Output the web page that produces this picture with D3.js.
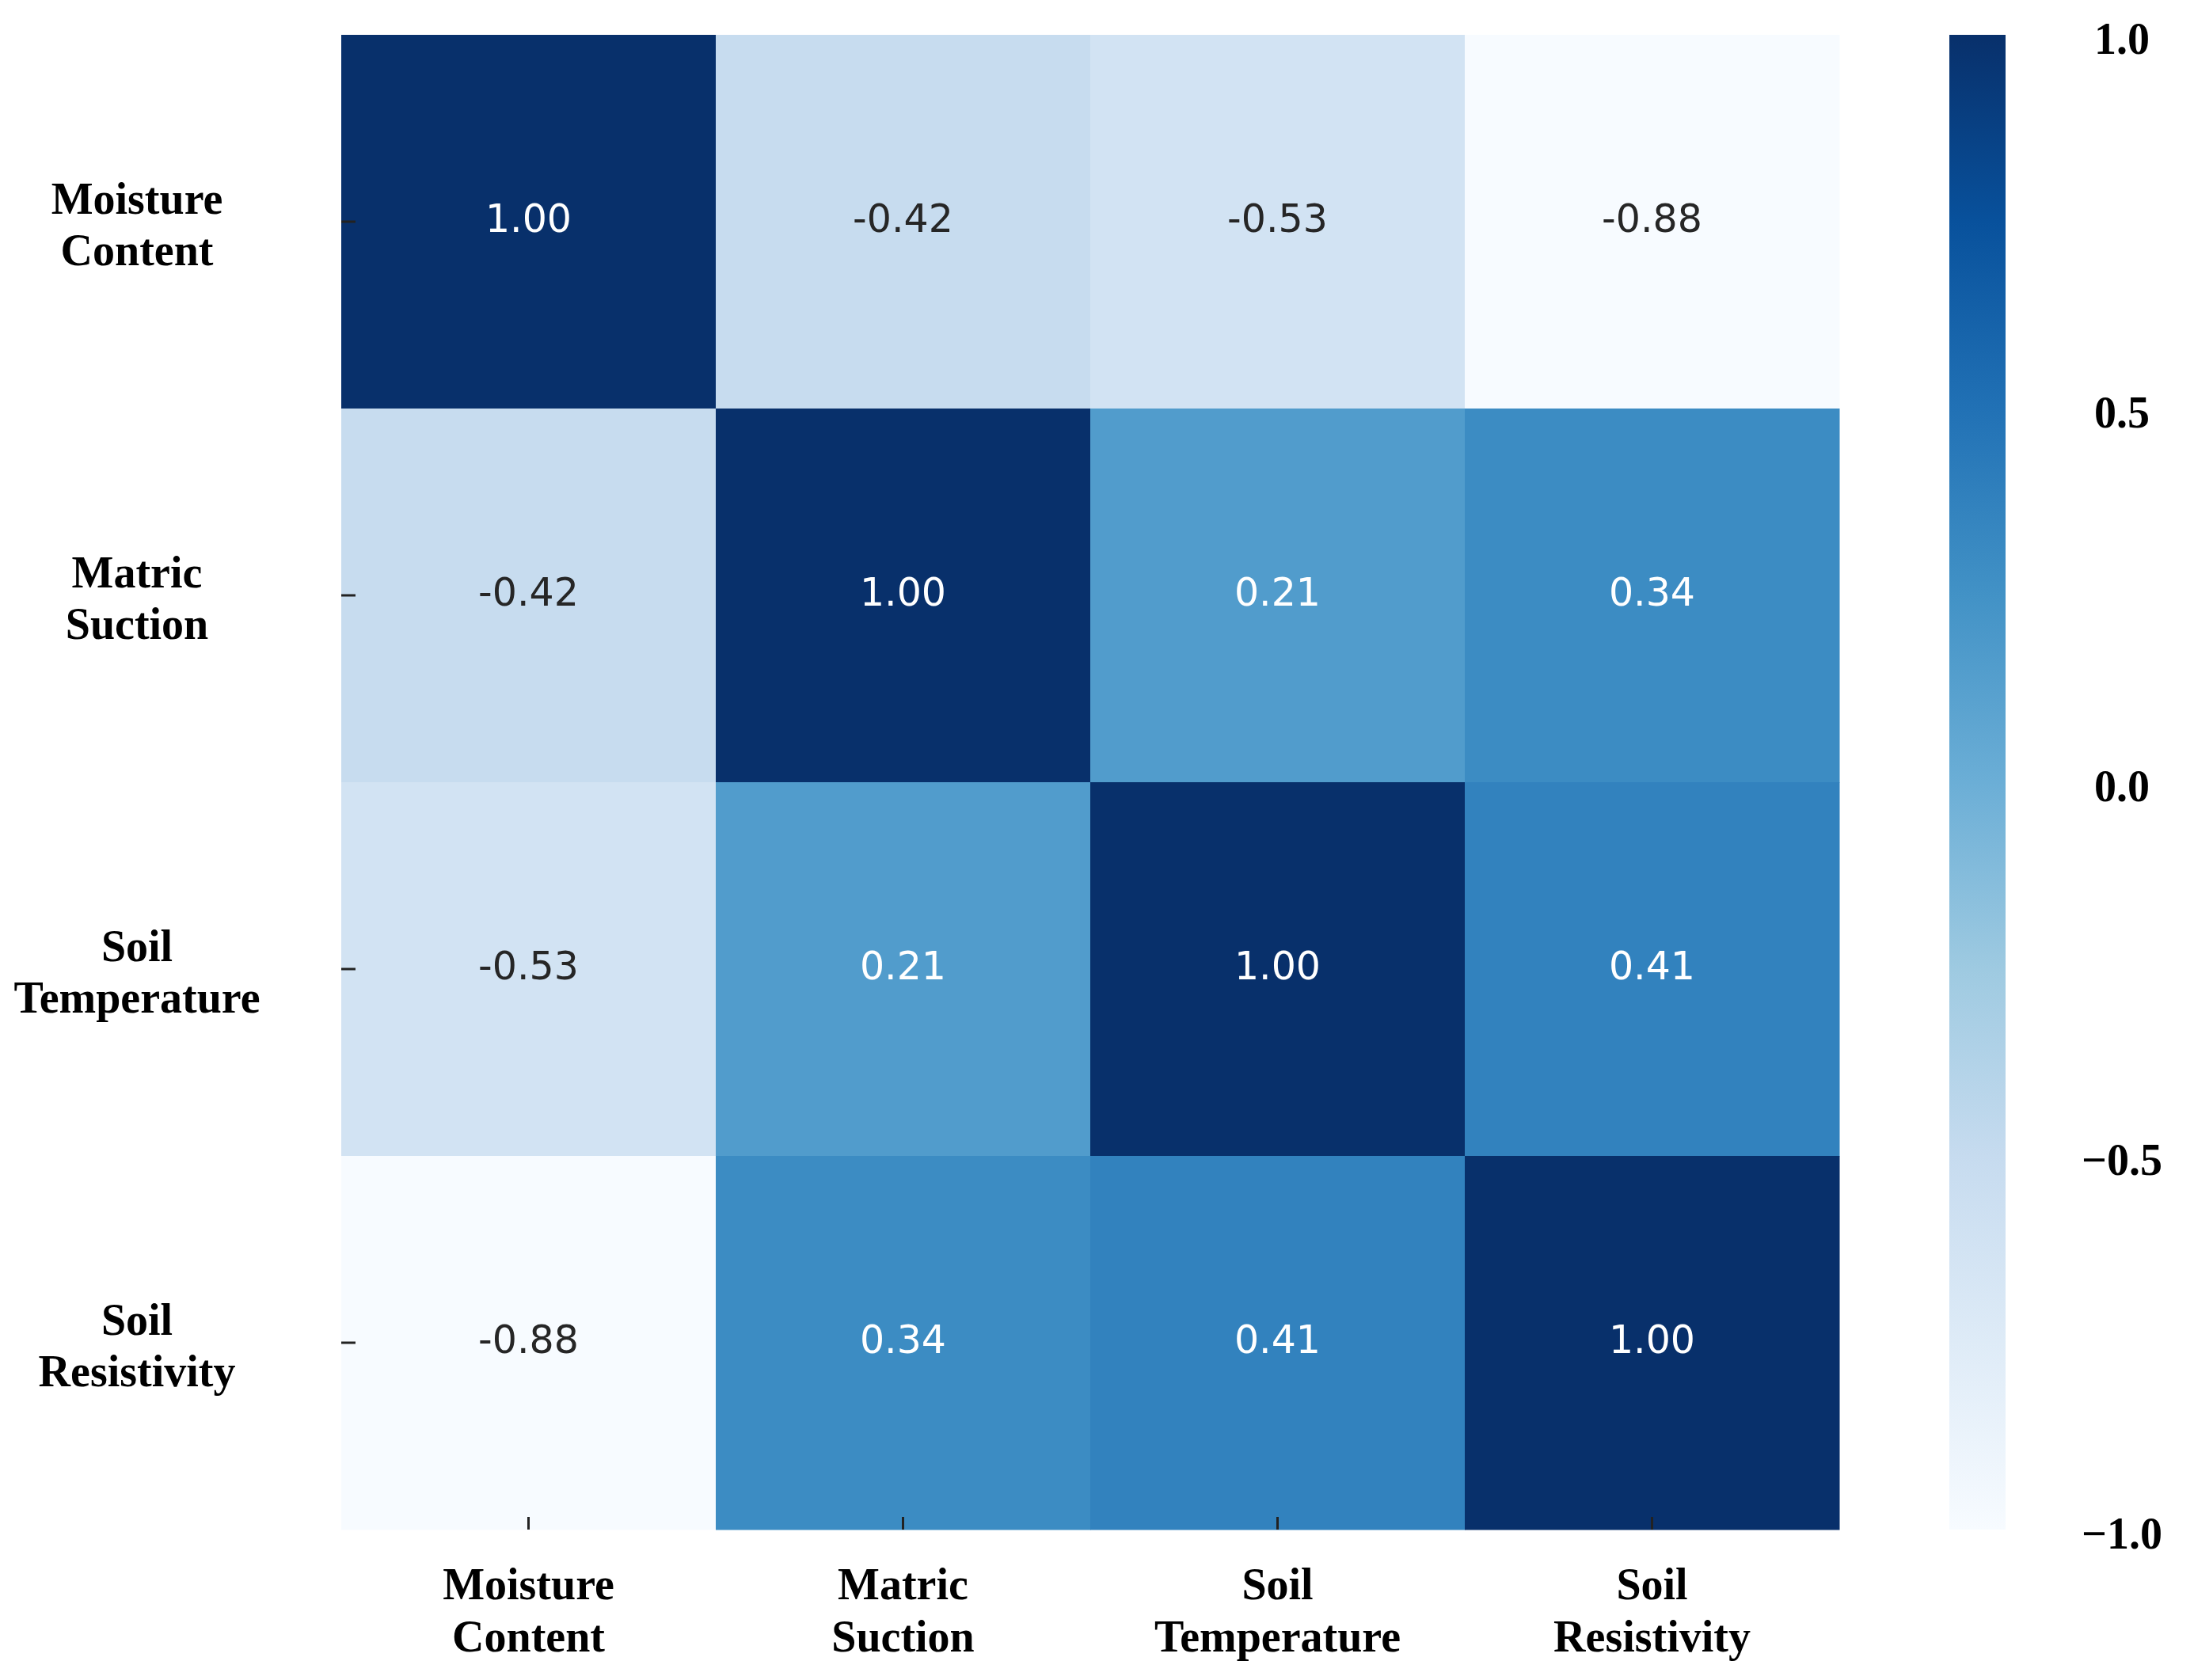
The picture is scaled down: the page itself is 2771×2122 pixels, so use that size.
<!DOCTYPE html>
<html>
<head>
<meta charset="utf-8">
<script src="https://cdn.jsdelivr.net/npm/d3@7"></script>
<style>
  body { margin: 0; background: #fff; }
  svg { display: block; }
</style>
</head>
<body>
<div id="chart"></div>
<script>
// Variable names (rows and columns of the correlation matrix)
const variables = ['Moisture Content', 'Matric Suction', 'Soil Temperature', 'Soil Resistivity']

// Correlation rows
const moistureRow = [1.0, -0.42, -0.53, -0.88]
const suctionRow = [-0.42, 1.0, 0.21, 0.34]
const temperatureRow = [-0.53, 0.21, 1.0, 0.41]
const resistivityRow = [-0.88, 0.34, 0.41, 1.0]

// Colorbar tick labels
const colorbarTicks = [-1.0, -0.5, 0.0, 0.5, 1.0]

// matplotlib "Blues" anchor colours
const bluesStops = ['#f7fbff', '#deebf7', '#c6dbef', '#9ecae1', '#6baed6',
  '#4292c6', '#2171b5', '#08519c', '#08306b']

const matrix = [moistureRow, suctionRow, temperatureRow, resistivityRow]

const totalWidth = 2771
const totalHeight = 2122
const margin = { top: 44, left: 431, right: 448, bottom: 190 }
const width = totalWidth - margin.left - margin.right
const height = totalHeight - margin.top - margin.bottom

const svg = d3
  .select('#chart')
  .append('svg')
  .attr('width', totalWidth)
  .attr('height', totalHeight)

svg.append('rect')
  .attr('width', totalWidth)
  .attr('height', totalHeight)
  .attr('fill', '#fff')

const g = svg.append('g')
  .attr('transform', 'translate(' + margin.left + ',' + margin.top + ')')

// Scales
const xScale = d3.scaleBand().domain(variables).range([0, width])
const yScale = d3.scaleBand().domain(variables).range([0, height])

const allValues = matrix.flat()
const [vMin, vMax] = d3.extent(allValues)
const colorScale = d3.scaleLinear()
  .domain(bluesStops.map((c, i) => vMin + (vMax - vMin) * i / (bluesStops.length - 1)))
  .range(bluesStops)
  .interpolate(d3.interpolateRgb)
  .clamp(true)

// relative luminance, same rule seaborn uses to pick annotation colour
function luminance(color) {
  const c = d3.rgb(color)
  const lin = v => {
    v = v / 255
    return v <= 0.03928 ? v / 12.92 : Math.pow((v + 0.055) / 1.055, 2.4)
  }
  return 0.2126 * lin(c.r) + 0.7152 * lin(c.g) + 0.0722 * lin(c.b)
}

const cells = []
matrix.forEach((row, i) => {
  row.forEach((v, j) => {
    cells.push({ row: variables[i], col: variables[j], value: v })
  })
})

// Cells
g.selectAll('rect.cell')
  .data(cells)
  .enter()
  .append('rect')
  .attr('class', 'cell')
  .attr('x', d => xScale(d.col))
  .attr('y', d => yScale(d.row))
  .attr('width', xScale.bandwidth() + 0.5)
  .attr('height', yScale.bandwidth() + 0.5)
  .attr('fill', d => colorScale(d.value))

// Annotations
g.selectAll('text.annot')
  .data(cells)
  .enter()
  .append('text')
  .attr('class', 'annot')
  .attr('x', d => xScale(d.col) + xScale.bandwidth() / 2)
  .attr('y', d => yScale(d.row) + yScale.bandwidth() / 2 - 4)
  .attr('text-anchor', 'middle')
  .attr('dominant-baseline', 'central')
  .attr('font-family', 'DejaVu Sans')
  .attr('font-size', 49)
  .attr('fill', d => luminance(colorScale(d.value)) > 0.408 ? '#262626' : '#ffffff')
  .text(d => d3.format('.2f')(d.value).replace('−', '-'))

// Axes
const labelFont = '"Liberation Serif", "Times New Roman", serif'

function twoLines(sel, x, y1, y2) {
  sel.each(function(d) {
    const words = d.split(' ')
    const t = d3.select(this).text(null)
      .attr('font-family', labelFont)
      .attr('font-weight', 'bold')
      .attr('font-size', 56)
      .attr('fill', '#000')
      .attr('text-anchor', 'middle')
      .attr('dy', null)
      .attr('y', null)
      .attr('x', null)
    t.append('tspan').attr('x', x).attr('y', y1).text(words[0])
    t.append('tspan').attr('x', x).attr('y', y2).text(words.slice(1).join(' '))
  })
}

const xAxis = d3.axisBottom(xScale).tickSize(-16).tickPadding(0)
const xAxisG = g.append('g')
  .attr('class', 'axis x-axis')
  .attr('transform', 'translate(0,' + height + ')')
  .call(xAxis)
xAxisG.select('.domain').remove()
xAxisG.selectAll('.tick line').attr('stroke', '#222').attr('stroke-width', 3)
xAxisG.selectAll('.tick text').call(twoLines, 0, 88, 154)

const yAxis = d3.axisLeft(yScale).tickSize(-18).tickPadding(0)
const yAxisG = g.append('g')
  .attr('class', 'axis y-axis')
  .call(yAxis)
yAxisG.select('.domain').remove()
yAxisG.selectAll('.tick line').attr('stroke', '#222').attr('stroke-width', 3)
yAxisG.selectAll('.tick text').call(twoLines, -258, -10, 55)

// Colorbar
const cbX = 2462
const cbWidth = 71
const defs = svg.append('defs')
const grad = defs.append('linearGradient')
  .attr('id', 'cb-grad')
  .attr('x1', 0).attr('y1', 1)
  .attr('x2', 0).attr('y2', 0)
grad.selectAll('stop')
  .data(bluesStops)
  .enter()
  .append('stop')
  .attr('offset', (d, i) => i / (bluesStops.length - 1))
  .attr('stop-color', d => d)

svg.append('rect')
  .attr('x', cbX)
  .attr('y', margin.top)
  .attr('width', cbWidth)
  .attr('height', height)
  .attr('fill', 'url(#cb-grad)')

const cbScale = d3.scaleLinear().domain([-1, 1]).range([margin.top + height, margin.top])
const cbAxis = d3.axisRight(cbScale)
  .tickValues(colorbarTicks)
  .tickSize(0)
  .tickFormat(d3.format('.1f'))
const cbAxisG = svg.append('g')
  .attr('class', 'axis cb-axis')
  .attr('transform', 'translate(' + (cbX + cbWidth) + ',0)')
  .call(cbAxis)
cbAxisG.select('.domain').remove()
cbAxisG.selectAll('.tick text')
  .attr('x', 147)
  .attr('dy', '0.32em')
  .attr('y', 6)
  .attr('text-anchor', 'middle')
  .attr('font-family', labelFont)
  .attr('font-weight', 'bold')
  .attr('font-size', 56)
  .attr('fill', '#000')
</script>
</body>
</html>
